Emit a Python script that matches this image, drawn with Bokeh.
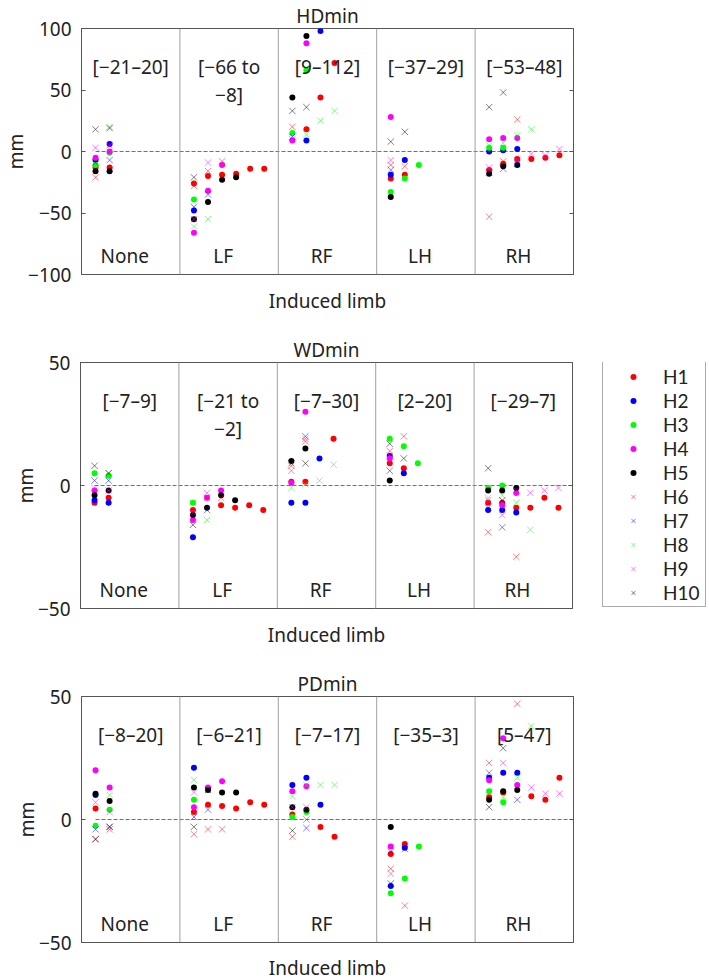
from bokeh.plotting import figure
from bokeh.models import Range1d, LinearAxis, FixedTicker, Span, Legend, LegendItem
from bokeh.layouts import column, row
from bokeh.embed import file_html
from bokeh.resources import INLINE
from bokeh.core.properties import value

FONT = "Noto Sans"
LEGEND_FONT = "Lato"
FS = "19px"
TXT = "#222222"

groups = ["None", "LF", "RF", "LH", "RH"]
subjects = ["H1", "H2", "H3", "H4", "H5", "H6", "H7", "H8", "H9", "H10"]
subject_colors = ["#ff0000", "#0000ff", "#00ff00", "#ff00ff", "#000000",
                  "#ff0000", "#0000ff", "#00ff00", "#ff00ff", "#000000"]
subject_markers = ["circle"] * 5 + ["x"] * 5

# (group, trial, subject, value)
hd_points = [
    ("None", 1, "H10", 18), ("None", 1, "H9", 3), ("None", 1, "H4", -5), ("None", 1, "H2", -7),
    ("None", 1, "H7", -9), ("None", 1, "H3", -11), ("None", 1, "H1", -13), ("None", 1, "H5", -16),
    ("None", 1, "H6", -21),
    ("None", 2, "H8", 20), ("None", 2, "H10", 19), ("None", 2, "H2", 6), ("None", 2, "H9", 5),
    ("None", 2, "H4", 0), ("None", 2, "H3", -1), ("None", 2, "H7", -7), ("None", 2, "H1", -13),
    ("None", 2, "H5", -16),
    ("LF", 1, "H10", -21), ("LF", 1, "H1", -26), ("LF", 1, "H6", -28), ("LF", 1, "H3", -39),
    ("LF", 1, "H7", -45), ("LF", 1, "H2", -48), ("LF", 1, "H5", -55), ("LF", 1, "H9", -55),
    ("LF", 1, "H8", -61), ("LF", 1, "H4", -66),
    ("LF", 2, "H9", -9), ("LF", 2, "H6", -16), ("LF", 2, "H1", -20), ("LF", 2, "H4", -32),
    ("LF", 2, "H7", -35), ("LF", 2, "H5", -41), ("LF", 2, "H8", -55),
    ("LF", 3, "H6", -8), ("LF", 3, "H4", -11), ("LF", 3, "H1", -19), ("LF", 3, "H5", -23),
    ("LF", 4, "H1", -18), ("LF", 4, "H5", -21),
    ("LF", 5, "H1", -14), ("LF", 6, "H1", -14),
    ("RF", 1, "H5", 44), ("RF", 1, "H10", 33), ("RF", 1, "H6", 20), ("RF", 1, "H3", 15),
    ("RF", 1, "H7", 12), ("RF", 1, "H4", 9), ("RF", 1, "H9", 10),
    ("RF", 2, "H5", 94), ("RF", 2, "H4", 88), ("RF", 2, "H3", 66), ("RF", 2, "H10", 36),
    ("RF", 2, "H1", 18), ("RF", 2, "H8", 14), ("RF", 2, "H2", 9),
    ("RF", 3, "H2", 98), ("RF", 3, "H1", 44), ("RF", 3, "H8", 25),
    ("RF", 4, "H1", 72), ("RF", 4, "H8", 33),
    ("LH", 1, "H4", 28), ("LH", 1, "H10", 8), ("LH", 1, "H9", -7), ("LH", 1, "H6", -11),
    ("LH", 1, "H7", -15), ("LH", 1, "H2", -19), ("LH", 1, "H1", -22), ("LH", 1, "H3", -33),
    ("LH", 1, "H5", -37),
    ("LH", 2, "H10", 16), ("LH", 2, "H2", -7), ("LH", 2, "H6", -12), ("LH", 2, "H1", -19),
    ("LH", 2, "H3", -22),
    ("LH", 3, "H3", -11),
    ("RH", 1, "H10", 36), ("RH", 1, "H4", 10), ("RH", 1, "H8", 5), ("RH", 1, "H3", 3),
    ("RH", 1, "H2", 0), ("RH", 1, "H9", -13), ("RH", 1, "H1", -15), ("RH", 1, "H7", -17),
    ("RH", 1, "H5", -18), ("RH", 1, "H6", -53),
    ("RH", 2, "H10", 48), ("RH", 2, "H4", 11), ("RH", 2, "H8", 7), ("RH", 2, "H3", 3),
    ("RH", 2, "H2", 1), ("RH", 2, "H6", -8), ("RH", 2, "H1", -10), ("RH", 2, "H5", -12),
    ("RH", 2, "H7", -14),
    ("RH", 3, "H6", 26), ("RH", 3, "H8", 13), ("RH", 3, "H4", 11), ("RH", 3, "H2", 2),
    ("RH", 3, "H1", -6), ("RH", 3, "H9", -7), ("RH", 3, "H7", -10), ("RH", 3, "H5", -11),
    ("RH", 4, "H8", 18), ("RH", 4, "H9", -2), ("RH", 4, "H1", -6),
    ("RH", 5, "H9", -3), ("RH", 5, "H1", -5),
    ("RH", 6, "H9", 2), ("RH", 6, "H1", -3),
]

wd_points = [
    ("None", 1, "H10", 8), ("None", 1, "H3", 5), ("None", 1, "H7", 2), ("None", 1, "H9", -1),
    ("None", 1, "H4", -2), ("None", 1, "H5", -4), ("None", 1, "H2", -6), ("None", 1, "H1", -7),
    ("None", 2, "H10", 5), ("None", 2, "H8", 5), ("None", 2, "H3", 4), ("None", 2, "H7", 2),
    ("None", 2, "H9", -2), ("None", 2, "H5", -2), ("None", 2, "H1", -5), ("None", 2, "H2", -7),
    ("LF", 1, "H3", -7), ("LF", 1, "H8", -7), ("LF", 1, "H1", -10), ("LF", 1, "H9", -11),
    ("LF", 1, "H5", -12), ("LF", 1, "H4", -14), ("LF", 1, "H10", -16), ("LF", 1, "H2", -21),
    ("LF", 2, "H9", -3), ("LF", 2, "H4", -5), ("LF", 2, "H6", -5), ("LF", 2, "H5", -9),
    ("LF", 2, "H7", -10), ("LF", 2, "H8", -14),
    ("LF", 3, "H4", -2), ("LF", 3, "H5", -4), ("LF", 3, "H6", -5), ("LF", 3, "H1", -8),
    ("LF", 4, "H5", -6), ("LF", 4, "H1", -9),
    ("LF", 5, "H1", -8), ("LF", 6, "H1", -10),
    ("RF", 1, "H5", 10), ("RF", 1, "H10", 9), ("RF", 1, "H6", 8), ("RF", 1, "H9", 6),
    ("RF", 1, "H1", 1.5), ("RF", 1, "H4", 1), ("RF", 1, "H8", -1), ("RF", 1, "H2", -7),
    ("RF", 2, "H4", 30), ("RF", 2, "H7", 20), ("RF", 2, "H9", 19), ("RF", 2, "H6", 18),
    ("RF", 2, "H5", 15), ("RF", 2, "H10", 9), ("RF", 2, "H1", 1.5), ("RF", 2, "H8", 0.5),
    ("RF", 2, "H2", -7),
    ("RF", 3, "H2", 11), ("RF", 3, "H8", 2),
    ("RF", 4, "H1", 19), ("RF", 4, "H8", 8.5),
    ("LH", 1, "H3", 19), ("LH", 1, "H10", 17), ("LH", 1, "H6", 14), ("LH", 1, "H2", 12),
    ("LH", 1, "H9", 12), ("LH", 1, "H4", 11), ("LH", 1, "H1", 9), ("LH", 1, "H7", 6),
    ("LH", 1, "H5", 2),
    ("LH", 2, "H6", 20), ("LH", 2, "H3", 16), ("LH", 2, "H10", 11), ("LH", 2, "H1", 7),
    ("LH", 2, "H2", 5),
    ("LH", 3, "H3", 9),
    ("RH", 1, "H10", 7), ("RH", 1, "H3", -1), ("RH", 1, "H5", -2), ("RH", 1, "H8", -5),
    ("RH", 1, "H9", -6), ("RH", 1, "H1", -7), ("RH", 1, "H7", -9), ("RH", 1, "H2", -10),
    ("RH", 1, "H6", -19),
    ("RH", 2, "H3", 0), ("RH", 2, "H5", -2), ("RH", 2, "H8", -4), ("RH", 2, "H10", -6),
    ("RH", 2, "H1", -7), ("RH", 2, "H4", -8), ("RH", 2, "H2", -10), ("RH", 2, "H9", -12),
    ("RH", 2, "H7", -17),
    ("RH", 3, "H5", -1), ("RH", 3, "H9", -2), ("RH", 3, "H4", -3), ("RH", 3, "H8", -7),
    ("RH", 3, "H1", -9), ("RH", 3, "H2", -11), ("RH", 3, "H6", -29),
    ("RH", 4, "H9", -3), ("RH", 4, "H1", -9), ("RH", 4, "H8", -18),
    ("RH", 5, "H9", -2), ("RH", 5, "H1", -5),
    ("RH", 6, "H9", -1), ("RH", 6, "H1", -9),
]

pd_points = [
    ("None", 1, "H4", 20), ("None", 1, "H5", 10.5), ("None", 1, "H2", 10), ("None", 1, "H9", 7),
    ("None", 1, "H1", 4.5), ("None", 1, "H3", -2.5), ("None", 1, "H7", -4), ("None", 1, "H6", -8),
    ("None", 1, "H10", -8),
    ("None", 2, "H4", 13), ("None", 2, "H8", 10), ("None", 2, "H5", 7.5), ("None", 2, "H3", 4),
    ("None", 2, "H9", 3), ("None", 2, "H7", -3), ("None", 2, "H6", -4), ("None", 2, "H10", -3),
    ("LF", 1, "H2", 21), ("LF", 1, "H8", 16), ("LF", 1, "H5", 13), ("LF", 1, "H9", 11),
    ("LF", 1, "H3", 8), ("LF", 1, "H4", 5), ("LF", 1, "H1", 3), ("LF", 1, "H7", 1),
    ("LF", 1, "H10", -3), ("LF", 1, "H6", -6),
    ("LF", 2, "H4", 13), ("LF", 2, "H10", 12), ("LF", 2, "H5", 12), ("LF", 2, "H1", 6),
    ("LF", 2, "H7", 4), ("LF", 2, "H6", -4),
    ("LF", 3, "H4", 15.5), ("LF", 3, "H5", 11), ("LF", 3, "H1", 5.5), ("LF", 3, "H6", -4),
    ("LF", 4, "H5", 11), ("LF", 4, "H1", 4.5),
    ("LF", 5, "H1", 7), ("LF", 6, "H1", 6),
    ("RF", 1, "H2", 14), ("RF", 1, "H4", 11.5), ("RF", 1, "H8", 9.5), ("RF", 1, "H5", 5),
    ("RF", 1, "H9", 5), ("RF", 1, "H1", 2), ("RF", 1, "H3", 1), ("RF", 1, "H10", -4.5),
    ("RF", 1, "H6", -7),
    ("RF", 2, "H2", 17), ("RF", 2, "H4", 13.5), ("RF", 2, "H8", 14), ("RF", 2, "H9", 5),
    ("RF", 2, "H5", 4), ("RF", 2, "H3", 3), ("RF", 2, "H6", 0), ("RF", 2, "H7", -3.5),
    ("RF", 3, "H8", 14), ("RF", 3, "H2", 6), ("RF", 3, "H1", -3),
    ("RF", 4, "H8", 14), ("RF", 4, "H1", -7),
    ("LH", 1, "H5", -3), ("LH", 1, "H4", -11), ("LH", 1, "H7", -13), ("LH", 1, "H1", -14),
    ("LH", 1, "H6", -20), ("LH", 1, "H9", -22), ("LH", 1, "H10", -26), ("LH", 1, "H2", -27),
    ("LH", 1, "H3", -30),
    ("LH", 2, "H1", -10), ("LH", 2, "H7", -12), ("LH", 2, "H2", -11.5), ("LH", 2, "H3", -24),
    ("LH", 2, "H6", -35),
    ("LH", 3, "H3", -11),
    ("RH", 1, "H6", 23), ("RH", 1, "H7", 19), ("RH", 1, "H2", 17), ("RH", 1, "H4", 16),
    ("RH", 1, "H8", 11), ("RH", 1, "H3", 11.5), ("RH", 1, "H1", 9), ("RH", 1, "H5", 8),
    ("RH", 1, "H10", 5),
    ("RH", 2, "H4", 33), ("RH", 2, "H10", 29), ("RH", 2, "H9", 23), ("RH", 2, "H2", 19),
    ("RH", 2, "H5", 11.5), ("RH", 2, "H1", 11), ("RH", 2, "H8", 9), ("RH", 2, "H3", 7),
    ("RH", 3, "H6", 47), ("RH", 3, "H2", 19), ("RH", 3, "H8", 17), ("RH", 3, "H4", 14),
    ("RH", 3, "H5", 12), ("RH", 3, "H7", 8),
    ("RH", 4, "H8", 38), ("RH", 4, "H9", 13), ("RH", 4, "H1", 9.5),
    ("RH", 5, "H9", 10.5), ("RH", 5, "H1", 8),
    ("RH", 6, "H1", 17), ("RH", 6, "H9", 10.5),
]

hd_ranges = ["[\u221221\u201320]", "[\u221266 to\n\u22128]", "[9\u2013112]", "[\u221237\u201329]", "[\u221253\u201348]"]
wd_ranges = ["[\u22127\u20139]", "[\u221221 to\n\u22122]", "[\u22127\u201330]", "[2\u201320]", "[\u221229\u20137]"]
pd_ranges = ["[\u22128\u201320]", "[\u22126\u201321]", "[\u22127\u201317]", "[\u221235\u20133]", "[5\u201347]"]

hd_ticks = [-100, -50, 0, 50, 100]
wd_ticks = [-50, 0, 50]
pd_ticks = [-50, 0, 50]

FRAME_W, FRAME_H = 492, 246
N_TRIAL_SLOTS = 7
AX_COL = "#555555"
TOP_B, MID_B = 28, 60


def xpos(group, trial):
    return groups.index(group) + trial / N_TRIAL_SLOTS


def tick_text(t):
    return ("\u2212" + str(abs(t))) if t < 0 else str(t)


def add_subject_glyphs(p, xs_by_subj, ys_by_subj):
    rs = {}
    for s, c, m in zip(subjects, subject_colors, subject_markers):
        if m == "circle":
            r = p.scatter(xs_by_subj[s], ys_by_subj[s], marker="circle", size=6,
                          fill_color=c, line_color=None)
        else:
            r = p.scatter(xs_by_subj[s], ys_by_subj[s], marker="x", size=9,
                          line_color=c, line_alpha=0.5, line_width=1)
        rs[s] = r
    return rs


def make_panel(title, pts, ranges, ticks, bottom_border, xlabel_standoff):
    ymin, ymax = ticks[0], ticks[-1]
    upp = (ymax - ymin) / FRAME_H          # data units per pixel
    p = figure(frame_width=FRAME_W, frame_height=FRAME_H,
               x_range=Range1d(0, len(groups)), y_range=Range1d(ymin, ymax),
               x_axis_type=None, y_axis_type=None,
               output_backend="svg", toolbar_location=None,
               min_border_left=80, min_border_right=10,
               min_border_top=TOP_B, min_border_bottom=bottom_border)
    p.outline_line_color = AX_COL
    p.outline_line_width = 1
    p.background_fill_color = "white"
    p.border_fill_color = "white"

    p.title.text = title
    p.title.align = "center"
    p.title.text_font = FONT
    p.title.text_font_size = FS
    p.title.text_font_style = "normal"
    p.title.text_color = TXT
    p.title.standoff = 0

    for side in ("left", "right"):
        ax = LinearAxis(ticker=FixedTicker(ticks=ticks, minor_ticks=[]),
                        major_tick_in=4, major_tick_out=0,
                        minor_tick_in=0, minor_tick_out=0,
                        axis_line_color=AX_COL, major_tick_line_color=AX_COL)
        if side == "left":
            ax.major_label_overrides = {t: tick_text(t) for t in ticks}
            ax.major_label_text_font = FONT
            ax.major_label_text_font_size = FS
            ax.major_label_text_color = TXT
            ax.major_label_standoff = 10
            ax.axis_label = "mm"
            ax.axis_label_text_font = FONT
            ax.axis_label_text_font_size = FS
            ax.axis_label_text_font_style = "normal"
            ax.axis_label_text_color = TXT
            ax.axis_label_standoff = -4
        else:
            ax.major_label_overrides = {t: "" for t in ticks}
            ax.major_label_standoff = 0
        p.add_layout(ax, side)

    xax = LinearAxis(ticker=FixedTicker(ticks=[], minor_ticks=[]),
                     axis_line_color=None, major_tick_in=0, major_tick_out=0,
                     minor_tick_in=0, minor_tick_out=0, major_label_standoff=0,
                     axis_label="Induced limb", axis_label_text_font=FONT,
                     axis_label_text_font_size=FS, axis_label_text_font_style="normal",
                     axis_label_text_color=TXT, axis_label_standoff=xlabel_standoff)
    p.add_layout(xax, "below")

    for g in range(1, len(groups)):
        p.add_layout(Span(location=g, dimension="height", line_color="#a0a0a0", line_width=1))

    p.segment(x0=[xpos(groups[0], 1)], y0=[0], x1=[len(groups)], y1=[0],
              line_color="#707070", line_width=1, line_dash="4 2")

    xs = {s: [xpos(g, k) for (g, k, sub, v) in pts if sub == s] for s in subjects}
    ys = {s: [v for (g, k, sub, v) in pts if sub == s] for s in subjects}
    add_subject_glyphs(p, xs, ys)

    # range labels
    rx, ry, rt = [], [], []
    line_step = 28 * upp
    base = ymax - 38 * upp
    for gi, txt in enumerate(ranges):
        for li, line in enumerate(txt.split("\n")):
            rx.append(gi + 0.5)
            ry.append(base - li * line_step)
            rt.append(line)
    p.text(x=rx, y=ry, text=rt, text_align="center", text_baseline="alphabetic",
           text_font=value(FONT), text_font_size=value(FS), text_color=TXT)

    # category labels
    p.text(x=[gi + 0.44 for gi in range(len(groups))], y=[ymin + 19 * upp] * len(groups),
           text=groups, text_align="center", text_baseline="alphabetic",
           text_font=value(FONT), text_font_size=value(FS), text_color=TXT)
    return p


def make_legend_panel():
    lp = figure(width=125, height=TOP_B + FRAME_H + MID_B,
                x_range=Range1d(0, 1), y_range=Range1d(0, 1),
                x_axis_type=None, y_axis_type=None, output_backend="svg",
                toolbar_location=None, min_border_left=0, min_border_right=0,
                min_border_top=TOP_B, min_border_bottom=MID_B)
    lp.outline_line_color = None
    lp.background_fill_color = "white"
    lp.border_fill_color = "white"
    # legend-only renderers: their single point lies outside the visible range
    off = {s: [-5] for s in subjects}
    rs = add_subject_glyphs(lp, off, off)
    items = [LegendItem(label=s, renderers=[rs[s]]) for s in subjects]
    lg = Legend(items=items, location=(20, 1), orientation="vertical",
                label_text_font=LEGEND_FONT, label_text_font_size=FS, label_text_color=TXT,
                glyph_width=56, glyph_height=15, label_height=24, label_width=40,
                label_standoff=2, spacing=0, padding=2, margin=0,
                border_line_color=AX_COL, border_line_width=1,
                background_fill_color="white", background_fill_alpha=1.0)
    lp.add_layout(lg, "center")
    return lp


p1 = make_panel("HDmin", hd_points, hd_ranges, hd_ticks, MID_B, 13)
p2 = make_panel("WDmin", wd_points, wd_ranges, wd_ticks, MID_B, 13)
p3 = make_panel("PDmin", pd_points, pd_ranges, pd_ticks, 38, 12)
lp = make_legend_panel()

page = column(p1, row(p2, lp, spacing=0), p3, spacing=0)
open("out.html", "w").write(file_html(page, INLINE))
